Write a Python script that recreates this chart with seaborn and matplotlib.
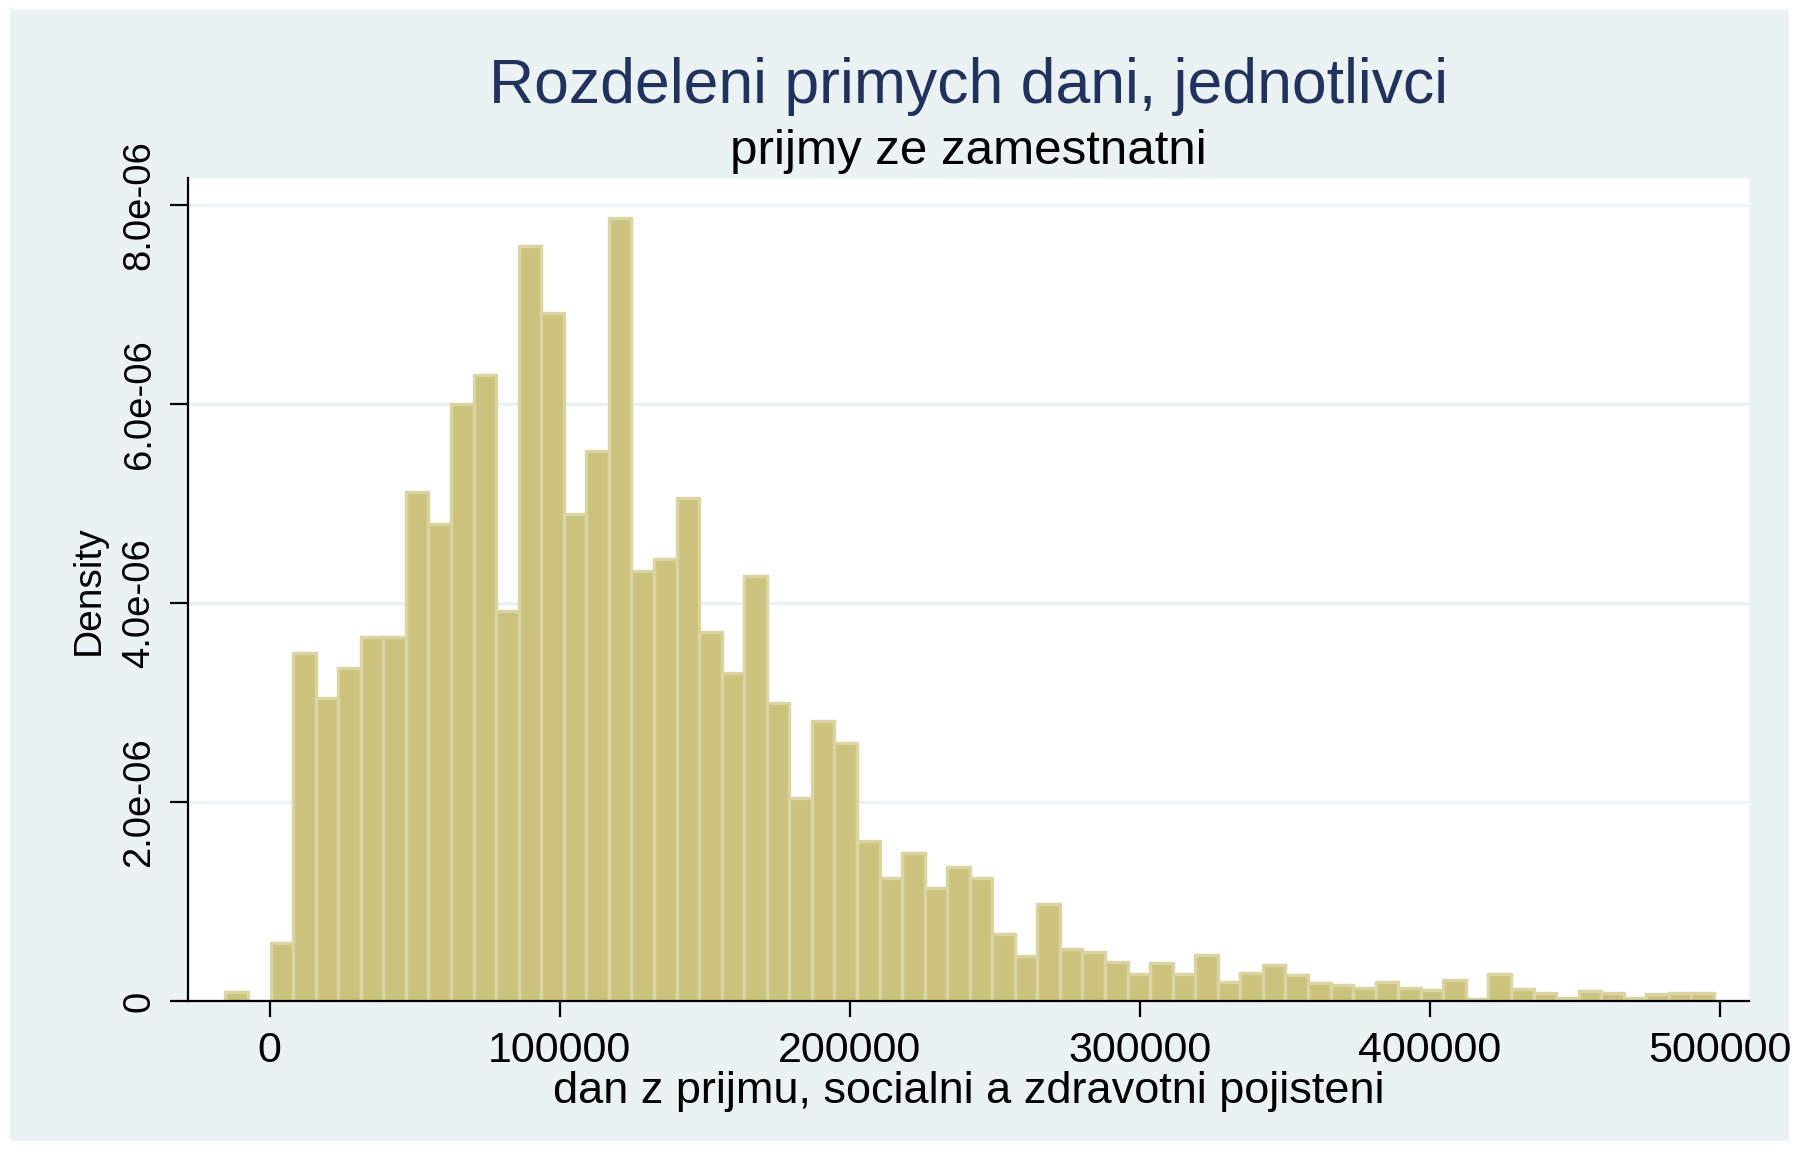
import numpy as np
import pandas as pd
import matplotlib
matplotlib.use("Agg")
import matplotlib.pyplot as plt
from matplotlib.patches import Rectangle
import seaborn as sns

# histogram: 66 equal bins, density per bin
bin_first_edge = -15300
bin_width = 7776
density_e6 = [
    0.087, 0.0, 0.586, 3.50, 3.04, 3.35, 3.66, 3.66, 5.11, 4.79,
    6.00, 6.29, 3.92, 7.58, 6.91, 4.89, 5.53, 7.87, 4.32, 4.44,
    5.05, 3.71, 3.30, 4.27, 2.99, 2.04, 2.81, 2.59, 1.61, 1.24,
    1.49, 1.13, 1.35, 1.24, 0.67, 0.45, 0.97, 0.52, 0.49, 0.39,
    0.27, 0.38, 0.27, 0.46, 0.19, 0.28, 0.365, 0.26, 0.18, 0.16,
    0.13, 0.19, 0.13, 0.11, 0.21, 0.02, 0.27, 0.12, 0.08, 0.027,
    0.10, 0.08, 0.027, 0.074, 0.084, 0.084,
]

x_ticks = [0, 100000, 200000, 300000, 400000, 500000]
x_tick_labels = ["0", "100000", "200000", "300000", "400000", "500000"]
y_ticks = [0, 2e-6, 4e-6, 6e-6, 8e-6]
y_tick_labels = ["0", "2.0e-06", "4.0e-06", "6.0e-06", "8.0e-06"]

title = "Rozdeleni primych dani, jednotlivci"
subtitle = "prijmy ze zamestnatni"
x_label = "dan z prijmu, socialni a zdravotni pojisteni"
y_label = "Density"

n_bins = len(density_e6)
edges = [float(bin_first_edge + bin_width * i) for i in range(n_bins + 1)]
df = pd.DataFrame({
    "income": [(edges[i] + edges[i + 1]) / 2 for i in range(n_bins)],
    "density": [d * 1e-6 for d in density_e6],
})

sns.set_style("white")
plt.rcParams["font.family"] = ["Liberation Sans", "DejaVu Sans"]

BG = "#EAF2F3"
fig = plt.figure(figsize=(17.98, 11.5), dpi=100)
fig.patch.set_facecolor("white")
fig.patches.append(Rectangle((10 / 1798, 9 / 1150), 1779 / 1798, 1132 / 1150,
                             transform=fig.transFigure, facecolor=BG,
                             edgecolor="none", zorder=-10))

ax = fig.add_axes([0.1046, 0.1296, 0.8682, 0.7156])
ax.set_facecolor("white")

sns.histplot(data=df, x="income", weights="density", bins=edges, stat="count",
             color="#CAC27D", edgecolor="#D9D4A2", linewidth=2.4,
             alpha=1, ax=ax)

ax.set_xlim(-28170, 510000)
ax.set_ylim(0, 8.268e-6)

ax.set_axisbelow(True)
ax.yaxis.grid(True, color=BG, linewidth=2.2)
ax.xaxis.grid(False)

for side in ["top", "right"]:
    ax.spines[side].set_visible(False)
for side in ["left", "bottom"]:
    ax.spines[side].set_color("black")
    ax.spines[side].set_linewidth(1.6)

ax.set_xticks(x_ticks)
ax.set_xticklabels(x_tick_labels, fontsize=31)
ax.set_yticks(y_ticks)
ax.set_yticklabels(y_tick_labels, fontsize=27.5, rotation=90, va="center")
ax.tick_params(axis="x", direction="out", length=11.5, width=1.6, pad=10,
               colors="black", bottom=True)
ax.tick_params(axis="y", direction="out", length=13, width=1.6, pad=9,
               colors="black", left=True)

ax.set_xlabel("")
ax.set_ylabel("")
fig.text(0.5387, 1 - 1103 / 1150, x_label, ha="center", va="baseline",
         fontsize=32.5, color="black")
fig.text(0.0495, 0.4872, y_label, ha="center", va="center", rotation=90,
         fontsize=28, color="black")
fig.text(0.5387, 1 - 103 / 1150, title, ha="center", va="baseline",
         fontsize=45, color="#22325F")
fig.text(0.5387, 1 - 164 / 1150, subtitle, ha="center", va="baseline",
         fontsize=35.5, color="black")

fig.savefig("out.png", dpi=100, facecolor=fig.get_facecolor())
